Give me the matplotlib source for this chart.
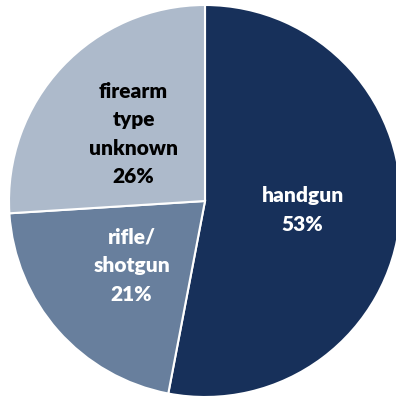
import matplotlib
matplotlib.use("Agg")
import matplotlib.pyplot as plt

categories = ["handgun", "rifle/\nshotgun", "firearm\ntype\nunknown"]
values = [53, 21, 26]
colors = ["#17305a", "#687f9d", "#adbacb"]
text_colors = ["white", "white", "black"]

W, H = 396, 399
cx, cy, R = 205, 201, 196
fig = plt.figure(figsize=(W/100, H/100), dpi=100)
ax = fig.add_axes([0, 0, 1, 1])
labels = [f"{c}\n{v}%" for c, v in zip(categories, values)]
wedges, texts = ax.pie(values, labels=labels, colors=colors, startangle=90,
                       counterclock=False, labeldistance=0.5, radius=1,
                       wedgeprops=dict(edgecolor="white", linewidth=1.5),
                       textprops=dict(fontsize=15, fontweight="heavy", family="Lato",
                                      ha="center", va="center", linespacing=1.6))
for t, c in zip(texts, text_colors):
    t.set_color(c)
    t.set_horizontalalignment("center")
    t.set_multialignment("center")
ax.set_xlim(-cx/R, (W-cx)/R)
ax.set_ylim(-(H-cy)/R, cy/R)
ax.set_aspect("equal")
ax.axis("off")
fig.savefig("out.png", dpi=100)
